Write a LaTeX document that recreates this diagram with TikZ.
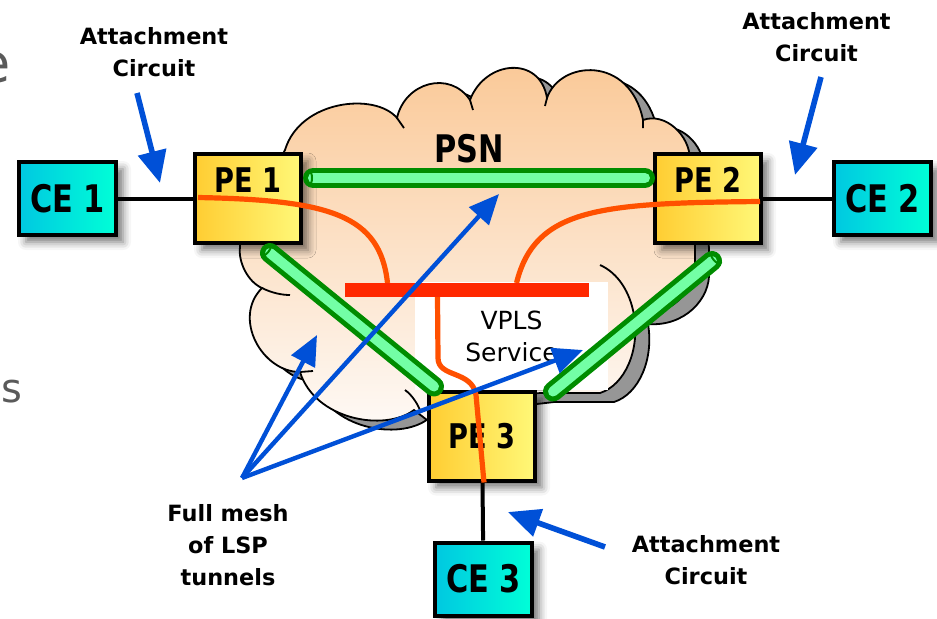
\documentclass[tikz,border=0pt]{standalone}
\usepackage{fontspec}
\setmainfont{DejaVu Sans}
\newfontfamily\boxfont[FakeStretch=0.8]{DejaVu Sans}
\usepackage{xcolor}
\definecolor{cloudtop}{RGB}{250,200,150}
\definecolor{cloudbot}{RGB}{254,250,247}
\definecolor{cloudshade}{RGB}{150,150,150}
\definecolor{celeft}{RGB}{0,200,225}
\definecolor{ceright}{RGB}{0,255,215}
\definecolor{peleft}{RGB}{255,205,50}
\definecolor{peright}{RGB}{255,248,120}
\definecolor{tundark}{RGB}{0,140,0}
\definecolor{tunlight}{RGB}{115,255,165}
\definecolor{vplsline}{RGB}{255,80,0}
\definecolor{vplsbus}{RGB}{255,40,0}
\definecolor{callout}{RGB}{0,80,215}
\definecolor{slidegray}{RGB}{90,90,90}
\usepackage{tikz}
\usetikzlibrary{arrows.meta,calc,shadows.blur}
\tikzset{
  cloudbody/.style={draw=black,line width=0.9pt,top color=cloudtop,bottom color=cloudbot},
  cloudshadow/.style={draw=black,line width=0.9pt,fill=cloudshade},
  cloudedge/.style={draw=black,line width=0.9pt},
  boxshadow/.style={blur shadow={shadow xshift=3.5pt,shadow yshift=-3.5pt,%
    shadow blur radius=4pt,shadow opacity=55}},
  cebox/.style={draw,line width=2pt,left color=celeft,right color=ceright,%
    minimum width=48.5pt,minimum height=36.5pt,inner sep=0pt,%
    font=\boxfont\bfseries\fontsize{19}{19}\selectfont,boxshadow},
  pebox/.style={draw,line width=2pt,left color=peleft,right color=peright,%
    minimum width=53pt,minimum height=44.5pt,inner sep=0pt,%
    font=\boxfont\bfseries\fontsize{17}{17}\selectfont,boxshadow},
  petop/.style={text height=19.2pt,text depth=25.3pt},
  vplsbox/.style={fill=white,minimum width=96.5pt,minimum height=54pt,%
    inner sep=0pt,align=center,font=\fontsize{12.5}{16}\selectfont},
  busspot/.style={minimum width=122pt,minimum height=7pt,inner sep=0pt,outer sep=0pt},
  note/.style={align=center,inner sep=0pt,font=\bfseries\fontsize{11.2}{16}\selectfont},
  psnlabel/.style={inner sep=0pt,font=\boxfont\bfseries\fontsize{19}{19}\selectfont},
  slidetext/.style={inner sep=0pt,text=slidegray,anchor=base east},
  link/.style={draw=black,line width=2pt},
  tunnel/.style={draw=tundark,line width=2.5pt,double=tunlight,double distance=5pt,line cap=round},
  tunend/.style={draw=tundark,line width=1pt},
  vpls/.style={draw=vplsline,line width=2.6pt},
  callout/.style={draw=callout,line width=2.8pt,-{Triangle[length=16pt,width=14pt]}},
  meshcallout/.style={draw=callout,line width=2.2pt,-{Triangle[length=15pt,width=13pt]}},
}
\newcommand{\psncloud}{(240,235) -- (285,150)
  .. controls (300,100) and (375,92) .. (397,118)
  .. controls (405,82) and (450,70) .. (470,100)
  .. controls (485,60) and (540,55) .. (547,98)
  .. controls (560,60) and (630,55) .. (643,120)
  .. controls (665,112) and (690,135) .. (690,160)
  -- (695,240) -- (695,262)
  .. controls (697,290) and (670,318) .. (634,315)
  .. controls (640,350) and (625,385) .. (600,393)
  -- (540,393) -- (480,400) -- (427,420) -- (414,410)
  .. controls (385,432) and (315,420) .. (300,372)
  .. controls (262,372) and (232,318) .. (262,288)
  .. controls (248,282) and (238,262) .. (240,247) -- cycle}

\begin{document}
\begin{tikzpicture}[x=0.5pt,y=-0.5pt]
\useasboundingbox (0,0) rectangle (937,618);
% cut-off slide text at the left edge
\node[slidetext,font=\fontsize{27}{27}\selectfont] (frage) at (11,82) {e};
\node[slidetext,font=\fontsize{20}{20}\selectfont] (fragss) at (23,402) {ss};
% PSN cloud with its shadow
\path[cloudshadow,shift={(14,9)}] \psncloud;
\path[cloudbody] \psncloud;
\draw[cloudedge] (397,118) -- (404,128) (470,100) -- (473,110)
  (547,98) -- (545,106) (643,120) -- (643,128)
  (600,265) .. controls (618,273) and (630,292) .. (634,315)
  (300,372) -- (313,371)
  (405,390) .. controls (412,395) and (417,403) .. (420,410)
  (262,288) .. controls (272,293) and (282,295) .. (290,295);
\node[psnlabel] (psn) at (469,149) {PSN};
\node[vplsbox] (vpls) at (511.5,336) {VPLS\\Service};
\node[busspot] (bus) at (466.5,290) {};
% edge boxes
\node[cebox] (ce1) at (67.5,198.5) {CE 1};
\node[cebox] (ce2) at (882.5,198.5) {CE 2};
\node[cebox] (ce3) at (483.5,579) {CE 3};
\node[pebox,petop] (pe1) at (248,198.5) {PE 1};
\node[pebox,petop] (pe2) at (708,198.5) {PE 2};
\node[pebox] (pe3) at (482,436) {PE 3};
\draw[link] (ce1) -- (pe1);
\draw[link] (pe2) -- (ce2);
\draw[link] (pe3) -- (ce3);
% LSP tunnels
\draw[tunnel] ($(pe1.north east)+(10,26)$) -- ($(pe2.north west)+(-8,26)$);
\draw[tunnel] ($(pe1.south west)+(77,8)$) -- ($(pe3.north west)+(7,-3)$);
\draw[tunnel] ($(pe3.north east)+(16,2)$) -- ($(pe2.south east)+(-51,16)$);
\draw[tunend] (309,178) ellipse[x radius=1.5pt,y radius=3.5pt];
\draw[tunend,shift={(266,250)},rotate=-39] (0,0) ellipse[x radius=1.5pt,y radius=3.5pt];
\draw[tunend,shift={(716,258)},rotate=40] (0,0) ellipse[x radius=1.5pt,y radius=3.5pt];
% VPLS service paths
\draw[vpls] ($(pe1.west)+(5,-1)$) .. controls (330,200) and (380,215) .. ($(bus.north west)+(43,0)$);
\draw[vpls] ($(pe2.east)+(-3,3)$) .. controls (600,203) and (535,208) .. ($(bus.north west)+(172,0)$);
\draw[vpls] ($(bus.south west)+(93,0)$) -- (438,358)
  .. controls (438,378) and (472,370) .. (476,395) -- ($(pe3.south)+(2,0)$);
\fill[vplsbus] (bus.north west) rectangle (bus.south east);
% labels and callouts
\node[note] (acl) at (154,52) {Attachment\\Circuit};
\node[note] (acr) at (816.5,37) {Attachment\\Circuit};
\node[note] (acb) at (706,560) {Attachment\\Circuit};
\node[note] (mesh) at (228,545) {Full mesh\\of LSP\\tunnels};
\coordinate (acltail) at (137,93);
\coordinate (acltip) at (160,183);
\coordinate (acrtail) at (821,77);
\coordinate (acrtip) at (795,175);
\coordinate (acbtail) at (605,547);
\coordinate (acbtip) at (508,512);
\coordinate (meshhub) at (242,478);
\coordinate (mesha) at (317,335);
\coordinate (meshb) at (499,194);
\coordinate (meshc) at (583,350);
\draw[callout] (acltail) -- (acltip);
\draw[callout] (acrtail) -- (acrtip);
\draw[callout] (acbtail) -- (acbtip);
\draw[meshcallout] (meshhub) -- (mesha);
\draw[meshcallout] (meshhub) -- (meshb);
\draw[meshcallout] (meshhub) -- (meshc);
\end{tikzpicture}
\end{document}
